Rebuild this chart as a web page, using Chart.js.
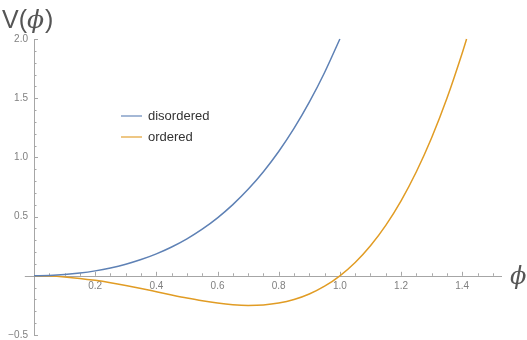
<!DOCTYPE html>
<html>
<head>
<meta charset="utf-8">
<script src="https://cdn.jsdelivr.net/npm/chart.js@4.4.1/dist/chart.umd.min.js"></script>
<style>
  html, body { margin: 0; padding: 0; background: #fff; }
  #wrap { width: 527px; height: 340px; }
</style>
</head>
<body>
<div id="wrap"><canvas id="mycanvas" width="527" height="340"></canvas></div>
<script>
// values
var seriesNames = ['disordered', 'ordered'];
var seriesColors = ['#5e81b5', '#e19c24'];

var phiDis = [0, 0.05, 0.1, 0.15, 0.2, 0.25, 0.3, 0.35, 0.4, 0.45, 0.5, 0.55, 0.6, 0.65, 0.7, 0.75, 0.8, 0.85, 0.9, 0.95, 1.0];
var vDis = [0, 0.0025, 0.0101, 0.0230, 0.0416, 0.0664, 0.0981, 0.1375, 0.1856, 0.2435, 0.3125, 0.3940, 0.4896, 0.6010, 0.7301, 0.8789, 1.0496, 1.2445, 1.4661, 1.7170, 2.0];

var phiOrd = [0, 0.05, 0.1, 0.15, 0.2, 0.25, 0.3, 0.35, 0.4, 0.45, 0.5, 0.55, 0.6, 0.65, 0.7, 0.75, 0.8, 0.85, 0.9, 0.95, 1.0, 1.05, 1.1, 1.15, 1.2, 1.25, 1.3, 1.35, 1.4, 1.4142];
var vOrd = [0, -0.0025, -0.0099, -0.0220, -0.0384, -0.0586, -0.0819, -0.1075, -0.1344, -0.1615, -0.1875, -0.2110, -0.2304, -0.2440, -0.2499, -0.2461, -0.2304, -0.2005, -0.1539, -0.0880, 0, 0.1130, 0.2541, 0.4265, 0.6336, 0.8789, 1.1661, 1.4990, 1.8816, 2.0];

var xTickLabels = [0.2, 0.4, 0.6, 0.8, 1.0, 1.2, 1.4];
var yTickLabels = [-0.5, 0.5, 1.0, 1.5, 2.0];

function toPoints(xs, ys) {
	var pts = [];
	for (var i in xs) {
		pts.push({x: xs[i], y: ys[i]});
	}
	return pts;
}

var axisColor = '#a6a6a6';

// Mathematica style axes: lines through the origin, ticks on the inside
var axesPlugin = {
	id: 'axesPlugin',
	beforeDatasetsDraw: function(chart) {
		var ctx = chart.ctx;
		var xs = chart.scales.x, ys = chart.scales.y;
		var x0 = xs.getPixelForValue(0), y0 = ys.getPixelForValue(0);
		ctx.save();
		ctx.strokeStyle = axisColor;
		ctx.lineWidth = 1;
		ctx.beginPath();
		ctx.moveTo(xs.getPixelForValue(-0.03), Math.round(y0) + 0.5);
		ctx.lineTo(xs.right, Math.round(y0) + 0.5);
		ctx.moveTo(Math.round(x0) + 0.5, ys.top);
		ctx.lineTo(Math.round(x0) + 0.5, ys.bottom);
		// x ticks every 0.05, major every 0.2
		for (var k = 1; k <= 30; k++) {
			var px = Math.round(xs.getPixelForValue(k * 0.05)) + 0.5;
			var len = (k % 4 === 0) ? 4 : 2.5;
			ctx.moveTo(px, y0);
			ctx.lineTo(px, y0 - len);
		}
		// y ticks every 0.1, major every 0.5
		for (var j = -5; j <= 20; j++) {
			if (j === 0) continue;
			var py = Math.round(ys.getPixelForValue(j * 0.1)) + 0.5;
			var l2 = (j % 5 === 0) ? 4 : 2.5;
			ctx.moveTo(x0, py);
			ctx.lineTo(x0 + l2, py);
		}
		ctx.stroke();
		ctx.restore();
	},
	afterDraw: function(chart) {
		var ctx = chart.ctx;
		ctx.save();
		ctx.fillStyle = '#555555';
		ctx.textBaseline = 'alphabetic';
		// axis labels  V(phi)  and  phi
		var tx = 2, tb = 28;
		ctx.font = '25px "Liberation Sans", sans-serif';
		ctx.fillText('V(', tx, tb);
		tx += ctx.measureText('V(').width;
		ctx.font = 'italic 25px "DejaVu Serif", serif';
		ctx.fillText('\u03d5', tx, tb);
		tx += ctx.measureText('\u03d5').width + 1;
		ctx.font = '25px "Liberation Sans", sans-serif';
		ctx.fillText(')', tx, tb);
		ctx.font = 'italic 24px "DejaVu Serif", serif';
		ctx.fillText('\u03d5', 510, 284);

		// legend
		var lx = 121, ly = 116;
		ctx.font = '13px "Liberation Sans", sans-serif';
		ctx.textBaseline = 'middle';
		chart.data.datasets.forEach(function(ds, i) {
			var yy = ly + i * 21;
			ctx.strokeStyle = ds.borderColor;
			ctx.globalAlpha = 0.75;
			ctx.lineWidth = 1.5;
			ctx.beginPath();
			ctx.moveTo(lx, yy);
			ctx.lineTo(lx + 21, yy);
			ctx.stroke();
			ctx.globalAlpha = 1;
			ctx.fillStyle = '#333333';
			ctx.fillText(ds.label, lx + 27, yy);
		});
		ctx.restore();
	}
};

var chartdata = {
	datasets: [
		{
			label: seriesNames[0],
			borderColor: seriesColors[0],
			backgroundColor: seriesColors[0],
			borderWidth: 1.5,
			pointRadius: 0,
			cubicInterpolationMode: 'monotone',
			clip: false,
			data: toPoints(phiDis, vDis)
		},
		{
			label: seriesNames[1],
			borderColor: seriesColors[1],
			backgroundColor: seriesColors[1],
			borderWidth: 1.5,
			pointRadius: 0,
			cubicInterpolationMode: 'monotone',
			clip: false,
			data: toPoints(phiOrd, vOrd)
		}
	]
};

var ctx = document.getElementById('mycanvas');

var lineGraph = new Chart(ctx, {
	type: 'line',
	data: chartdata,
	plugins: [axesPlugin],
	options: {
		responsive: false,
		animation: false,
		layout: { padding: { left: 0, right: 25, top: 39, bottom: 5 } },
		plugins: {
			legend: { display: false },
			tooltip: { enabled: false }
		},
		scales: {
			x: {
				type: 'linear',
				position: { y: 0 },
				min: 0,
				max: 1.53,
				grid: { display: false, drawTicks: false },
				border: { display: false },
				afterBuildTicks: function(s) {
					s.ticks = xTickLabels.map(function(v) { return {value: v}; });
				},
				ticks: {
					autoSkip: false,
					maxRotation: 0,
					padding: 4,
					color: '#808080',
					font: { family: '"Liberation Sans", sans-serif', size: 10 },
					callback: function(v) { return v.toFixed(1); }
				}
			},
			y: {
				type: 'linear',
				position: 'left',
				min: -0.5,
				max: 2.0,
				grid: { display: false, drawTicks: false },
				border: { display: false },
				afterBuildTicks: function(s) {
					s.ticks = yTickLabels.map(function(v) { return {value: v}; });
				},
				afterFit: function(s) {
					s.width = 34;
					s.paddingTop = 0;
					s.paddingBottom = 0;
				},
				ticks: {
					autoSkip: false,
					padding: 6,
					color: '#808080',
					font: { family: '"Liberation Sans", sans-serif', size: 10 },
					callback: function(v) { return v < 0 ? '\u2212' + Math.abs(v).toFixed(1) : v.toFixed(1); }
				}
			}
		}
	}
});
</script>
</body>
</html>
